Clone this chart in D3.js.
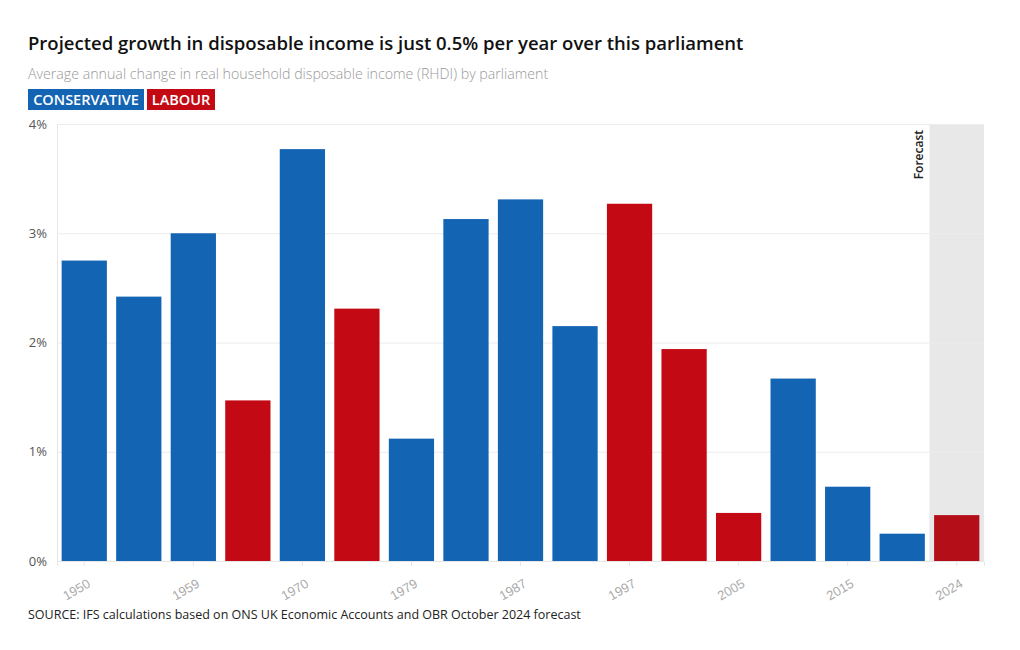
<!DOCTYPE html>
<html><head><meta charset="utf-8">
<script src="https://cdn.jsdelivr.net/npm/d3@7"></script>
<style>
body{margin:0;background:#fff;font-family:"Open Sans",sans-serif;}
</style></head><body>
<svg id="chart" width="1020" height="650"></svg>
<script>
const years = ["1950","1955","1959","1964","1970","1974","1979","1983","1987","1992","1997","2001","2005","2010","2015","2019","2024"];
const values = [2.75,2.42,3.0,1.47,3.77,2.31,1.12,3.13,3.31,2.15,3.27,1.94,0.44,1.67,0.68,0.25,0.42];
const parties = ["C","C","C","L","C","L","C","C","C","C","L","L","L","C","C","C","L"];
const forecast = [false,false,false,false,false,false,false,false,false,false,false,false,false,false,false,false,true];
const labelYears = ["1950","1959","1970","1979","1987","1997","2005","2015","2024"];
const yTicks = [0,1,2,3,4];

const colors = {C:"#1464b4", L:"#c30a14", F:"#b40f19"};
const svg = d3.select("#chart");
const m = {l:57, r:36, t:124, b:89};
const W = 1020, H = 650;
const x = d3.scaleBand().domain(years).range([m.l, W-m.r]).paddingInner(0.17).paddingOuter(0.085);
const y = d3.scaleLinear().domain([0,4]).range([H-m.b, m.t]);

// title
svg.append("text").attr("x",28).attr("y",50).attr("font-size",18.5).attr("font-weight",600).attr("fill","#111")
  .attr("font-family","Open Sans").text("Projected growth in disposable income is just 0.5% per year over this parliament");
svg.append("text").attr("x",28).attr("y",79).attr("font-size",14.2).attr("fill","#999").attr("font-weight",300)
  .text("Average annual change in real household disposable income (RHDI) by parliament");
// legend
const leg = [{t:"CONSERVATIVE",c:colors.C,x:28,w:116},{t:"LABOUR",c:colors.L,x:147,w:68}];
leg.forEach(d=>{
  svg.append("rect").attr("x",d.x).attr("y",89).attr("width",d.w).attr("height",21).attr("fill",d.c);
  svg.append("text").attr("x",d.x+d.w/2).attr("y",105).attr("text-anchor","middle").attr("font-size",14.5).attr("font-weight",600).attr("fill","#fff").text(d.t);
});

// forecast shade
const fIdx = forecast.indexOf(true);
const fStart = x(years[fIdx]) - x.step()*x.paddingInner()/2;
svg.append("rect").attr("x",fStart).attr("y",m.t).attr("width",W-m.r-fStart).attr("height",H-m.b-m.t).attr("fill","#e8e8e8");
svg.append("text").attr("transform",`translate(${fStart-6},${m.t+6}) rotate(-90)`).attr("text-anchor","end")
  .attr("font-size",12).attr("font-weight",600).attr("fill","#222").text("Forecast");

// grid
const yAxis = d3.axisLeft(y).tickValues(yTicks).tickFormat(d=>d+"%").tickSize(-(W-m.r-m.l)).tickPadding(10);
const ga = svg.append("g").attr("transform",`translate(${m.l},0)`).call(yAxis);
ga.select(".domain").attr("stroke","#e6e6e6");
ga.selectAll(".tick line").attr("stroke","#ececec");
ga.selectAll(".tick text").attr("font-size",13).attr("fill","#555").attr("font-family","Open Sans").attr("dx",0);

// bars
svg.append("g").selectAll("rect").data(years).join("rect")
  .attr("x",d=>x(d)).attr("width",x.bandwidth())
  .attr("y",(d,i)=>y(values[i])).attr("height",(d,i)=>y(0)-y(values[i]))
  .attr("fill",(d,i)=>forecast[i]?colors.F:colors[parties[i]]);

// x axis
const xAxis = d3.axisBottom(x).tickValues(labelYears).tickSize(5).tickPadding(8);
const gx = svg.append("g").attr("transform",`translate(0,${H-m.b})`).call(xAxis);
gx.select(".domain").attr("stroke","#e6e6e6");
gx.selectAll(".tick line").attr("stroke","#e6e6e6");
gx.selectAll(".tick text").attr("font-size",13).attr("fill","#aaa").attr("font-weight",300)
  .attr("text-anchor","end").attr("transform","translate(-4,6) rotate(-30)");

svg.append("text").attr("x",28).attr("y",619).attr("font-size",12.5).attr("fill","#222")
  .text("SOURCE: IFS calculations based on ONS UK Economic Accounts and OBR October 2024 forecast");
</script></body></html>
